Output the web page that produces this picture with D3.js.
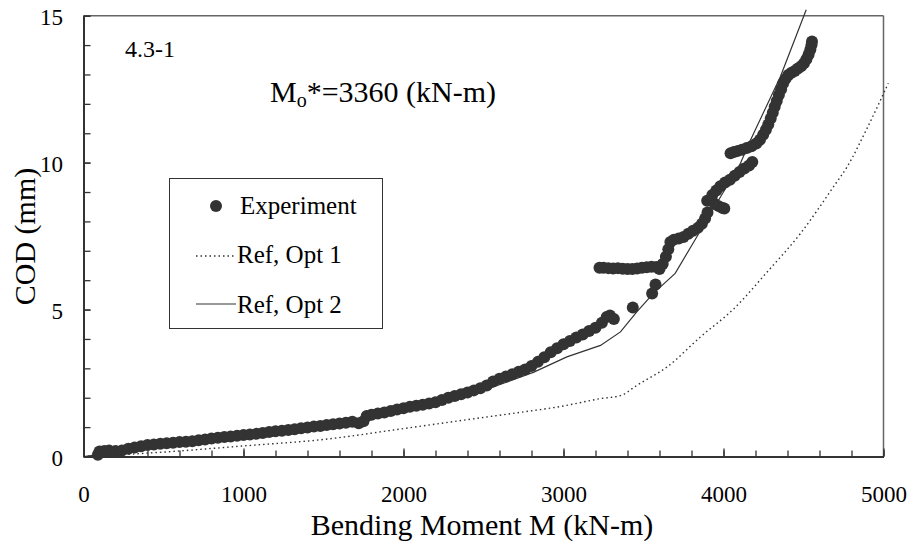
<!DOCTYPE html>
<html>
<head>
<meta charset="utf-8">
<script src="https://cdn.jsdelivr.net/npm/d3@7"></script>
<style>
  html, body { margin: 0; padding: 0; background: #fff; }
  svg { display: block; }
  text { font-family: "Liberation Serif", "Times New Roman", serif; fill: #000; }
</style>
</head>
<body>
<svg id="chart" width="913" height="548"></svg>
<script>
// ---------------- data ----------------
const xTickLabels = [0, 1000, 2000, 3000, 4000, 5000];
const yTickLabels = [0, 5, 10, 15];

// Experiment (bending moment kN-m, COD mm)
const expM = [90,100,130,160,200,240,280,320,360,400,440,480,520,560,600,640,680,720,760,800,
  840,880,920,960,1000,1040,1080,1120,1160,1200,1240,1280,1320,1360,1400,1440,1480,1520,1560,1600,
  1640,1680,1720,1750,1770,1800,1840,1880,1920,1960,2000,2040,2080,2120,2160,2200,2240,2280,2320,2360,
  2400,2440,2480,2520,2560,2600,2640,2680,2720,2760,2800,2840,2880,2920,2960,3000,3040,3080,3120,3160,
  3200,3240,3270,3290,3315,3433,3554,3575,
  3225,3250,3280,3310,3340,3370,3400,3430,3460,3490,3520,3550,3580,3600,
  3620,3640,3655,3668,3690,3720,3750,3780,3810,3840,3865,3885,3900,
  3898,3920,3945,3970,3995,4005,
  3930,3955,3980,4010,4040,4070,4100,4130,4160,4180,
  4044,4065,4090,4115,4145,4175,4205,4228,4248,4265,4280,4295,4308,4320,4333,4346,4360,4373,4388,4405,
  4425,4445,4465,4485,4503,4518,4532,4543,4550,4553];
const expCOD = [0.06,0.17,0.19,0.2,0.19,0.2,0.26,0.31,0.35,0.39,0.41,0.43,0.45,0.47,0.49,0.5,0.52,0.55,0.58,0.61,
  0.64,0.66,0.68,0.71,0.73,0.75,0.77,0.8,0.83,0.86,0.88,0.9,0.93,0.96,0.99,1.02,1.04,1.07,1.1,1.12,
  1.15,1.18,1.13,1.2,1.38,1.42,1.46,1.5,1.55,1.6,1.64,1.69,1.73,1.76,1.8,1.85,1.92,2.0,2.06,2.12,
  2.18,2.25,2.32,2.42,2.55,2.65,2.72,2.8,2.88,2.96,3.08,3.22,3.38,3.55,3.68,3.82,3.93,4.05,4.15,4.27,
  4.38,4.55,4.75,4.8,4.68,5.07,5.55,5.85,
  6.42,6.42,6.41,6.4,6.41,6.39,6.38,6.38,6.4,6.42,6.44,6.46,6.45,6.38,
  6.55,6.8,7.05,7.3,7.38,7.42,7.47,7.58,7.68,7.78,7.92,8.1,8.3,
  8.7,8.72,8.6,8.52,8.46,8.44,
  8.9,9.05,9.2,9.32,9.42,9.55,9.68,9.8,9.9,10.02,
  10.32,10.36,10.4,10.44,10.5,10.56,10.65,10.78,10.95,11.12,11.3,11.5,11.7,11.9,12.1,12.3,12.5,12.7,12.85,12.98,
  13.06,13.12,13.2,13.28,13.38,13.52,13.68,13.85,14.0,14.12];

// Ref, Opt 1 (dotted)
const opt1M   = [0, 500, 1000, 1500, 2000, 2500, 2700, 3000, 3231, 3360, 3458, 3648, 3856, 4065, 4273, 4481, 4690, 4773, 4900, 5030];
const opt1COD = [0, 0.15, 0.36, 0.58, 0.95, 1.33, 1.48, 1.72, 1.97, 2.08, 2.42, 3.05, 4.07, 5.03, 6.28, 7.59, 9.2, 9.86, 11.2, 12.7];

// Ref, Opt 2 (solid)
const opt2M   = [0, 500, 1000, 1500, 2000, 2500, 2815, 3021, 3231, 3356, 3458, 3562, 3698, 3802, 4106, 4169, 4356, 4517];
const opt2COD = [0, 0.35, 0.65, 1.0, 1.5, 2.25, 2.87, 3.39, 3.78, 4.24, 4.92, 5.55, 6.23, 7.19, 9.98, 10.77, 12.93, 15.2];

const legendLabels = ["Experiment", "Ref, Opt 1", "Ref, Opt 2"];

// ---------------- chart ----------------
const svg = d3.select("#chart");
const x = d3.scaleLinear().domain([0, 5000]).range([83.5, 883.5]);
const y = d3.scaleLinear().domain([0, 15]).range([456.5, 15.7]);
const dark = "#333333";

// frame top/right
svg.append("line").attr("x1", x(0)).attr("x2", x(5000)).attr("y1", y(15)).attr("y2", y(15))
  .attr("stroke", "#666").attr("stroke-width", 1.5);
svg.append("line").attr("x1", x(5000)).attr("x2", x(5000)).attr("y1", y(15)).attr("y2", y(0))
  .attr("stroke", "#666").attr("stroke-width", 1.5);

// x minor ticks
const gxMinor = svg.append("g").attr("transform", `translate(0,${y(0)})`)
  .call(d3.axisBottom(x).tickValues(d3.range(0, 5001, 200)).tickSizeInner(-6).tickSizeOuter(0).tickFormat(""));
// x major ticks + labels
const gx = svg.append("g").attr("transform", `translate(0,${y(0)})`)
  .call(d3.axisBottom(x).tickValues(xTickLabels).tickSizeInner(-8).tickSizeOuter(0).tickFormat(d3.format("d")));
gx.selectAll("text").attr("y", 45).attr("dy", 0).attr("font-size", 23)
  .attr("font-family", "Liberation Serif").attr("fill", "#000");

// y ticks
const gyMinor = svg.append("g").attr("transform", `translate(${x(0)},0)`)
  .call(d3.axisLeft(y).tickValues(d3.range(0, 16, 1)).tickSizeInner(-7).tickSizeOuter(0).tickFormat(""));
const gy = svg.append("g").attr("transform", `translate(${x(0)},0)`)
  .call(d3.axisLeft(y).tickValues(yTickLabels).tickSizeInner(-7).tickSizeOuter(0).tickFormat(d3.format("d")));
gy.selectAll("text").attr("x", -20.5).attr("dy", "0.4em").attr("font-size", 23)
  .attr("font-family", "Liberation Serif").attr("fill", "#000");

[gxMinor, gx, gyMinor, gy].forEach(g => {
  g.selectAll("path.domain").attr("stroke", dark).attr("stroke-width", 2);
  g.selectAll(".tick line").attr("stroke", dark).attr("stroke-width", 1.3);
});

// lines
const line = d3.line().x(d => x(d[0])).y(d => y(d[1]));
const opt1 = opt1M.map((m, i) => [m, opt1COD[i]]);
const opt2 = opt2M.map((m, i) => [m, opt2COD[i]]);
svg.append("path").datum(opt1).attr("d", line.curve(d3.curveMonotoneX))
  .attr("fill", "none").attr("stroke", dark).attr("stroke-width", 1.4).attr("stroke-dasharray", "1.5,3");
svg.append("path").datum(opt2).attr("d", d3.line().x(d => x(d[0])).y(d => y(d[1]))(opt2))
  .attr("fill", "none").attr("stroke", dark).attr("stroke-width", 1.2);

// experiment points
const exp = expM.map((m, i) => [m, expCOD[i]]);
svg.append("g").selectAll("circle").data(exp).join("circle")
  .attr("cx", d => x(d[0])).attr("cy", d => y(d[1])).attr("r", 6).attr("fill", dark);

// annotations
svg.append("text").attr("x", 125).attr("y", 57).attr("font-size", 24).text("4.3-1");
const mo = svg.append("text").attr("x", 270).attr("y", 101.7).attr("font-size", 30);
mo.append("tspan").text("M");
mo.append("tspan").attr("font-size", 20).attr("dy", 5).text("o");
mo.append("tspan").attr("dy", -5).text("*=3360 (kN-m)");

// axis titles
svg.append("text").attr("x", 482).attr("y", 535).attr("text-anchor", "middle").attr("font-size", 30)
  .text("Bending Moment M (kN-m)");
svg.append("text").attr("transform", "translate(35,236.5) rotate(-90)").attr("text-anchor", "middle")
  .attr("font-size", 30).text("COD (mm)");

// legend
const lg = svg.append("g");
lg.append("rect").attr("x", 169.5).attr("y", 178.5).attr("width", 213).attr("height", 150)
  .attr("fill", "#fff").attr("stroke", dark).attr("stroke-width", 1);
lg.append("circle").attr("cx", 216).attr("cy", 206).attr("r", 6).attr("fill", dark);
lg.append("text").attr("x", 240).attr("y", 213.5).attr("font-size", 25).text(legendLabels[0]);
lg.append("line").attr("x1", 196).attr("x2", 236).attr("y1", 256).attr("y2", 256)
  .attr("stroke", dark).attr("stroke-width", 1.4).attr("stroke-dasharray", "1.5,3");
lg.append("text").attr("x", 237).attr("y", 263).attr("font-size", 25).text(legendLabels[1]);
lg.append("line").attr("x1", 196).attr("x2", 236).attr("y1", 304).attr("y2", 304)
  .attr("stroke", dark).attr("stroke-width", 1.2);
lg.append("text").attr("x", 237).attr("y", 312.5).attr("font-size", 25).text(legendLabels[2]);
</script>
</body>
</html>
